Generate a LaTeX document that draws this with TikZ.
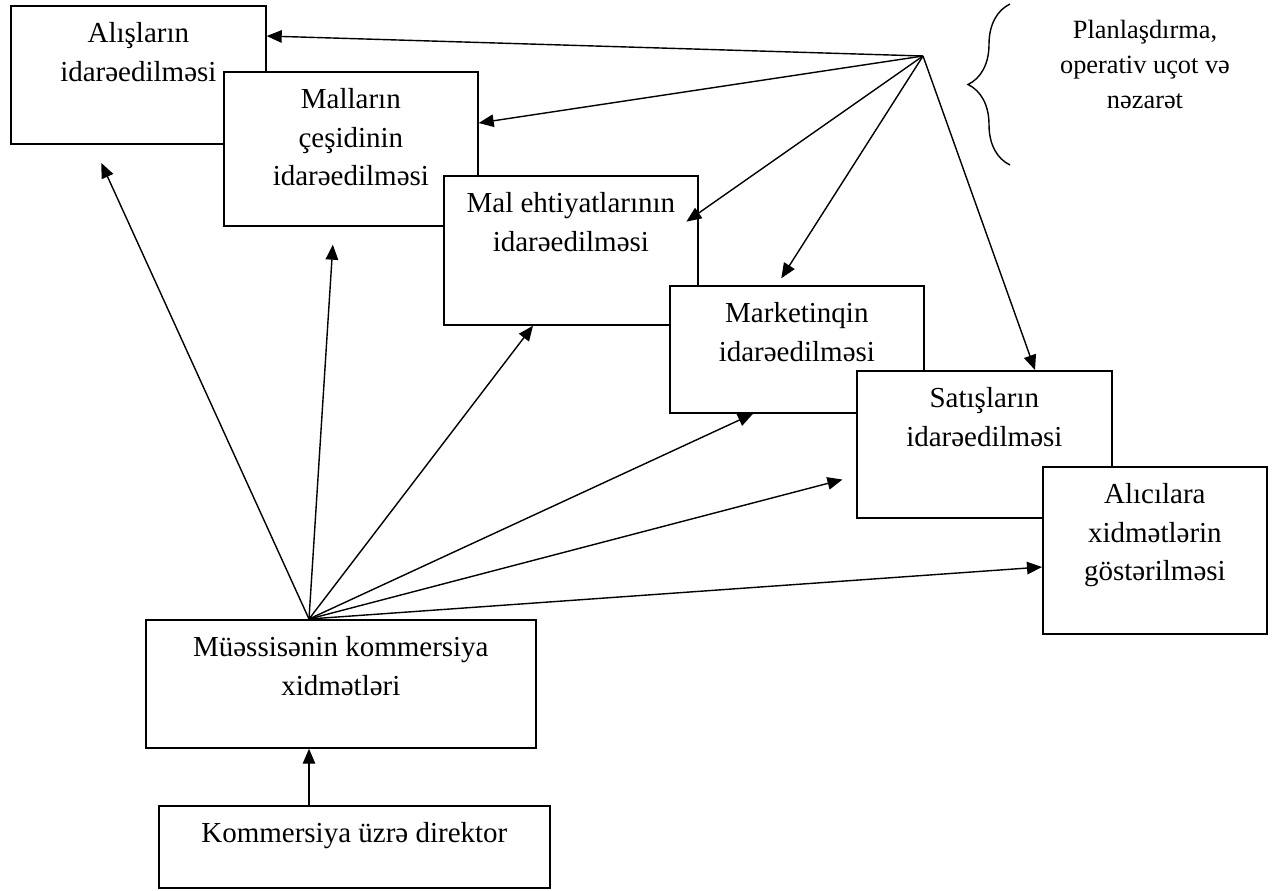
\documentclass[tikz,border=0pt]{standalone}
\usepackage{fontspec}
\setmainfont{Liberation Serif}
\usetikzlibrary{arrows.meta, positioning, decorations.pathreplacing}
\tikzstyle{box} = [rectangle, anchor=north west, draw=black, line width=1pt, fill=white, inner sep=0pt]
\tikzstyle{boxtext} = [align=center, inner sep=0pt, font=\fontsize{16.5}{22}\selectfont]
\tikzstyle{note} = [align=center, anchor=north, inner sep=0pt, font=\fontsize{15}{20}\selectfont]
\tikzstyle{arrow} = [line width=0.8pt,->,>={Triangle[length=0.3cm,width=0.25cm]}]
\tikzstyle{brace} = [decorate, decoration={brace, amplitude=0.84cm}, line width=0.8pt]

\begin{document}
\begin{tikzpicture}[x=0.02cm, y=-0.02cm]
\useasboundingbox (0,0) rectangle (1274,890);

\node (alis) [box, minimum width=5.1cm, minimum height=2.76cm] at (10,5) {};
\node (alistext) [boxtext, below=0.34cm of alis.north] {Alışların\\idarəedilməsi};
\node (mallar) [box, minimum width=5.08cm, minimum height=3.08cm] at (223,71) {};
\node (mallartext) [boxtext, below=0.34cm of mallar.north] {Malların\\çeşidinin\\idarəedilməsi};
\node (ehtiyat) [box, minimum width=5.08cm, minimum height=2.98cm] at (443,175) {};
\node (ehtiyattext) [boxtext, below=0.34cm of ehtiyat.north] {Mal ehtiyatlarının\\idarəedilməsi};
\node (marketinq) [box, minimum width=5.08cm, minimum height=2.54cm] at (669,285) {};
\node (marketinqtext) [boxtext, below=0.34cm of marketinq.north] {Marketinqin\\idarəedilməsi};
\node (satis) [box, minimum width=5.1cm, minimum height=2.94cm] at (856,370) {};
\node (satistext) [boxtext, below=0.34cm of satis.north] {Satışların\\idarəedilməsi};
\node (alici) [box, minimum width=4.48cm, minimum height=3.34cm] at (1042,466) {};
\node (alicitext) [boxtext, below=0.34cm of alici.north] {Alıcılara\\xidmətlərin\\göstərilməsi};
\node (muessise) [box, minimum width=7.8cm, minimum height=2.56cm] at (145,619) {};
\node (muessisetext) [boxtext, below=0.34cm of muessise.north] {Müəssisənin kommersiya\\xidmətləri};
\node (direktor) [box, minimum width=7.82cm, minimum height=1.64cm] at (158,805) {};
\node (direktortext) [boxtext, below=0.34cm of direktor.north] {Kommersiya üzrə direktor};

\node (plan) [note] at (1145,20) {Planlaşdırma,\\operativ uçot və\\nəzarət};
\coordinate (bracetop) at (1010,4);
\coordinate (bracebot) at (1010,165);
\draw [brace] (bracebot) -- (bracetop);

\coordinate (hub1) at (923,56);
\coordinate (hub2) at (309,619);

\draw [arrow] (hub1) -- (alis.east |- 0,36);
\draw [arrow] (hub1) -- (mallar.east |- 0,123);
\draw [arrow, shorten >=-0.3cm] (hub1) -- (ehtiyat.east |- 0,213);
\draw [arrow, shorten >=0.16cm] (hub1) -- (777,0 |- marketinq.north);
\draw [arrow] (hub1) -- (1035,0 |- satis.north);

\draw [arrow, shorten >=0.4cm] (hub2) -- (93,0 |- alis.south);
\draw [arrow, shorten >=0.36cm] (hub2) -- (334,0 |- mallar.south);
\draw [arrow] (hub2) -- (533,0 |- ehtiyat.south);
\draw [arrow] (hub2) -- (753,0 |- marketinq.south);
\draw [arrow, shorten >=0.28cm] (hub2) -- (satis.west |- 0,476);
\draw [arrow] (hub2) -- (alici.west |- 0,567);
\draw [arrow] (hub2 |- direktor.north) -- (hub2 |- muessise.south);

\end{tikzpicture}
\end{document}
